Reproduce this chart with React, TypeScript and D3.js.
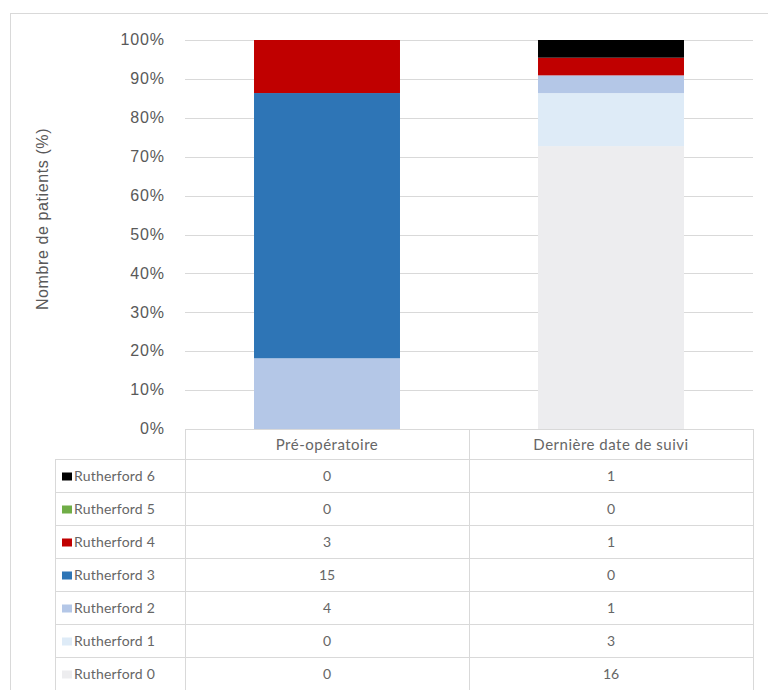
import * as d3 from 'd3';
import { useEffect, useRef } from 'react';

const categories = ['Pré-opératoire', 'Dernière date de suivi'];
const seriesNames = ['Rutherford 0', 'Rutherford 1', 'Rutherford 2', 'Rutherford 3', 'Rutherford 4', 'Rutherford 5', 'Rutherford 6'];
const preOp = [0, 0, 4, 15, 3, 0, 0];
const suivi = [16, 3, 1, 0, 1, 0, 1];
const seriesColors = ['#ededef', '#deebf7', '#b4c7e7', '#2e75b6', '#c00000', '#70ad47', '#000000'];
const yTicks = [0, 0.1, 0.2, 0.3, 0.4, 0.5, 0.6, 0.7, 0.8, 0.9, 1];

export default function App() {
  const svgRef = useRef<SVGSVGElement | null>(null);

  useEffect(() => {
    if (!svgRef.current) return;
    const svg = d3.select(svgRef.current);
    svg.selectAll('*').remove();

    const left = 185, right = 753, top = 40, bottom = 429;
    const tableLeft = 55;
    const headerH = 30;
    const rowH = 33;
    const grid = '#d9d9d9';
    const txt = '#595959';

    // bordure extérieure
    svg.append('rect')
      .attr('x', 10.5).attr('y', 13.5)
      .attr('width', 770).attr('height', 700)
      .attr('fill', 'white').attr('stroke', '#d9d9d9');

    const x = d3.scaleBand<string>().domain(categories).range([left, right])
      .paddingInner(0.486).paddingOuter(0.243);
    const y = d3.scaleLinear().domain([0, 1]).range([bottom, top]);

    // lignes de grille
    svg.append('g').selectAll('line')
      .data(yTicks.slice(1))
      .join('line')
      .attr('x1', left).attr('x2', right)
      .attr('y1', d => Math.round(y(d)) + 0.5).attr('y2', d => Math.round(y(d)) + 0.5)
      .attr('stroke', grid).attr('stroke-width', 1);

    svg.append('g').selectAll('text')
      .data(yTicks)
      .join('text')
      .attr('x', 165).attr('y', d => y(d) + 1)
      .attr('text-anchor', 'end').attr('dominant-baseline', 'middle')
      .attr('font-family', 'Liberation Sans, Arial, sans-serif')
      .attr('font-size', 16).attr('letter-spacing', 0.9).attr('fill', txt)
      .text(d => d3.format('.0%')(d));

    svg.append('text')
      .attr('transform', `translate(44,219) rotate(-90)`)
      .attr('text-anchor', 'middle').attr('dominant-baseline', 'middle')
      .attr('font-family', 'Liberation Sans, Arial, sans-serif')
      .attr('font-size', 16).attr('letter-spacing', 0.6).attr('fill', txt)
      .text('Nombre de patients (%)');

    // empilement 100 %
    const rows = categories.map((c, i) => {
      const r: Record<string, number | string> = { cat: c };
      seriesNames.forEach((s, j) => { r[s] = i === 0 ? preOp[j] : suivi[j]; });
      return r;
    });
    const stack = d3.stack<Record<string, number | string>>()
      .keys(seriesNames)
      .value((d, k) => d[k] as number)
      .offset(d3.stackOffsetExpand);
    const layers = stack(rows);

    svg.append('g').selectAll('g')
      .data(layers)
      .join('g')
      .attr('fill', (_, i) => seriesColors[i])
      .selectAll('rect')
      .data(d => d)
      .join('rect')
      .attr('x', d => x(d.data.cat as string)!)
      .attr('width', x.bandwidth())
      .attr('y', d => y(d[1]))
      .attr('height', d => y(d[0]) - y(d[1]));

    // tableau de données
    const tableFont = 'Lato, Open Sans, sans-serif';
    const tableTxt = '#666666';
    const t = svg.append('g');
    const tableTop = bottom;
    const rowsTop = tableTop + headerH;
    const displayOrder = d3.range(seriesNames.length).reverse();
    const tableBottom = rowsTop + rowH * displayOrder.length;

    // lignes horizontales
    t.append('line').attr('x1', left).attr('x2', right)
      .attr('y1', tableTop + 0.5).attr('y2', tableTop + 0.5).attr('stroke', grid);
    d3.range(displayOrder.length + 1).forEach(k => {
      const yy = Math.round(rowsTop + k * rowH) + 0.5;
      t.append('line').attr('x1', tableLeft).attr('x2', right)
        .attr('y1', yy).attr('y2', yy).attr('stroke', grid);
    });
    // lignes verticales
    [left, left + x.step(), right].forEach(xx => {
      t.append('line').attr('x1', xx + 0.5).attr('x2', xx + 0.5)
        .attr('y1', tableTop).attr('y2', tableBottom).attr('stroke', grid);
    });
    t.append('line').attr('x1', tableLeft + 0.5).attr('x2', tableLeft + 0.5)
      .attr('y1', rowsTop).attr('y2', tableBottom).attr('stroke', grid);

    // en-têtes
    t.selectAll('text.head')
      .data(categories)
      .join('text')
      .attr('class', 'head')
      .attr('x', d => x(d)! + x.bandwidth() / 2)
      .attr('y', tableTop + headerH / 2 + 2)
      .attr('text-anchor', 'middle').attr('dominant-baseline', 'middle')
      .attr('font-family', tableFont).attr('font-size', 15).attr('letter-spacing', 0.5)
      .attr('fill', tableTxt)
      .text(d => d);

    displayOrder.forEach((si, k) => {
      const cy = rowsTop + k * rowH + rowH / 2 + 2;
      t.append('rect')
        .attr('x', 62).attr('y', cy - 5).attr('width', 10).attr('height', 8)
        .attr('fill', seriesColors[si]);
      t.append('text')
        .attr('x', 74).attr('y', cy)
        .attr('dominant-baseline', 'middle')
        .attr('font-family', tableFont).attr('font-size', 14).attr('letter-spacing', 0.2)
        .attr('fill', tableTxt)
        .text(seriesNames[si]);
      [preOp[si], suivi[si]].forEach((v, ci) => {
        t.append('text')
          .attr('x', x(categories[ci])! + x.bandwidth() / 2)
          .attr('y', cy)
          .attr('text-anchor', 'middle').attr('dominant-baseline', 'middle')
          .attr('font-family', tableFont).attr('font-size', 14).attr('fill', tableTxt)
          .text(String(v));
      });
    });
  }, []);

  return (
    <svg ref={svgRef} width={768} height={690}
      style={{ position: 'absolute', left: 0, top: 0, background: 'white' }} />
  );
}
